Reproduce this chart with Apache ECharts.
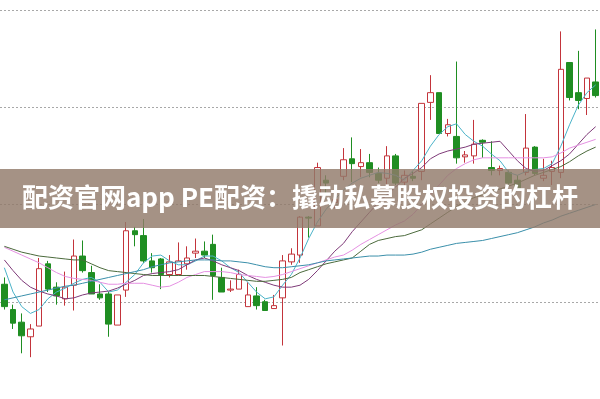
<!DOCTYPE html>
<html>
<head>
<meta charset="utf-8">
<script src="https://cdn.jsdelivr.net/npm/echarts@6/dist/echarts.min.js"></script>
<style>
    html, body {margin: 0; padding: 0; background: #fff;}
    #main {width: 600px; height: 399px;}
</style>
</head>
<body>
<div id="main"></div>
<script>
// 标题
var title = '配资官网app PE配资：撬动私募股权投资的杠杆';

// K线 [open, close, low, high]
var candles = [
    [118, 95, 92, 125], [92, 78, 72, 97], [79, 65, 47, 88], [64, 72, 43, 77],
    [75, 134, 75, 145], [139, 113, 110, 142], [115, 106, 97, 120], [103, 115, 96, 131],
    [117, 147, 91, 164], [147, 132, 130, 163], [130, 108, 108, 137], [108, 104, 102, 118],
    [108, 77, 64, 110], [76, 107, 76, 107], [112, 173, 105, 182], [173, 169, 157, 177],
    [168, 142, 140, 185], [142, 135, 130, 150], [144, 128, 113, 145], [128, 141, 125, 148],
    [128, 142, 128, 161], [139, 145, 133, 157], [150, 152, 145, 165], [152, 148, 145, 162],
    [159, 127, 102, 169], [125, 110, 110, 135], [112, 113, 110, 122], [113, 128, 113, 133],
    [95, 107, 95, 120], [106, 96, 92, 115], [100, 91, 91, 102], [93, 96, 93, 107],
    [104, 142, 55, 148], [141, 149, 138, 155], [148, 187, 140, 188], [187, 186, 166, 188],
    [178, 238, 178, 243], [225, 222, 210, 230], [202, 205, 196, 212], [229, 246, 225, 258],
    [247, 242, 223, 269], [239, 243, 228, 257], [243, 233, 228, 252], [232, 225, 222, 238],
    [227, 250, 220, 260], [250, 222, 220, 252], [223, 230, 220, 235], [229, 227, 224, 234],
    [234, 304, 225, 304], [305, 315, 287, 333], [315, 273, 273, 315], [273, 282, 270, 288],
    [270, 248, 242, 347], [249, 251, 243, 255], [250, 262, 242, 287], [266, 264, 248, 267],
    [238, 235, 230, 265], [235, 237, 230, 240], [233, 222, 220, 235], [225, 217, 214, 230],
    [233, 258, 230, 293], [259, 232, 230, 260], [227, 230, 224, 247], [234, 238, 220, 245],
    [233, 339, 227, 378], [346, 310, 307, 346], [315, 307, 298, 358], [309, 330, 292, 330],
    [326, 312, 310, 380]
];

// 均线
var ma5 = [135,110,95,88,92,103,110,114,119,123,125,120,110,112,120,128,140,147,148,142,
    138,138,142,147,147,142,135,130,120,110,103,105,117,128,145,165,182,195,205,215,
    222,227,230,233,232,230,225,235,245,260,272,280,283,272,265,260,252,245,233,230,
    234,236,237,242,260,282,302,315,323];
var ma10 = [143,132,122,115,111,108,106,103,104,107,109,110,111,114,118,122,127,129,130,131,
    133,138,143,145,142,138,135,132,127,123,120,117,115,115,117,123,132,142,152,160,
    172,182,192,202,210,218,227,232,238,247,252,255,257,259,262,263,264,265,255,245,
    237,234,235,240,245,252,262,272,280];
var ma20 = [156,152,148,144,140,135,130,126,124,123,122,120,118,118,119,119,119,117,115,116,
    120,125,128,131,131,131,130,128,127,126,125,126,128,131,134,137,140,143,146,148,
    153,159,164,169,174,179,183,190,200,210,220,230,237,242,246,248,248,248,248,248,
    248,248,248,249,253,258,261,264,267];
var ma30 = [157,154,151,149,147,146,145,144,143,143,139,135,132,131,130,129,128,127,127,127,
    127,127,127,127,126,125,124,123,122,121,121,122,123,125,130,133,136,139,141,143,
    145,152,159,163,165,167,168,171,174,180,186,192,198,203,207,210,213,216,219,222,
    226,230,233,236,239,244,250,255,259];
var ma60 = [102,104,106,108,110,112,114,116,117,119,121,123,125,127,129,131,133,136,138,140,
    141,142,143,143,143,142,142,141,140,138,136,135,135,136,137,138,140,142,143,144,
    145,146,147,147,148,148,148,149,151,154,156,158,160,161,162,163,165,167,169,171,
    174,177,181,184,188,191,194,197,200];

var days = [];
for (var i = 0; i < candles.length; i++) {
    days.push('D' + (i + 1));
}

var myChart = echarts.init(document.getElementById('main'));

function maLine(name, data, color) {
    return {
        name: name,
        type: 'line',
        data: data,
        symbol: 'none',
        silent: true,
        lineStyle: {width: 1, color: color},
        z: 3
    };
}

var option = {
    animation: false,
    grid: {left: -5, right: -1, top: 10, height: 399},
    xAxis: {
        type: 'category',
        data: days,
        boundaryGap: true,
        axisLine: {show: false},
        axisTick: {show: false},
        axisLabel: {show: false},
        splitLine: {show: false}
    },
    yAxis: {
        type: 'value',
        min: 0,
        max: 400,
        interval: 100,
        axisLine: {show: false},
        axisTick: {show: false},
        axisLabel: {show: false},
        splitLine: {
            show: true,
            lineStyle: {color: '#a8a8a8', type: [2, 2], width: 1}
        }
    },
    series: [
        {
            name: 'K',
            type: 'candlestick',
            data: candles,
            barWidth: 6,
            itemStyle: {
                color: '#ffffff',
                color0: '#1f8e22',
                borderColor: '#c3343b',
                borderColor0: '#1f8e22',
                borderWidth: 1
            },
            z: 2
        },
        maLine('MA5', ma5, '#4ab2c8'),
        maLine('MA10', ma10, '#7e3a78'),
        maLine('MA20', ma20, '#e590e2'),
        maLine('MA30', ma30, '#4b6a3c'),
        maLine('MA60', ma60, '#3a8faa')
    ],
    graphic: [
        {
            type: 'rect',
            left: 0,
            top: 169,
            z: 100,
            shape: {width: 600, height: 59},
            style: {fill: 'rgba(145,122,106,0.82)'}
        },
        {
            type: 'text',
            left: 'center',
            top: 184,
            z: 101,
            style: {
                text: title,
                fill: '#ffffff',
                font: 'bold 26px "Noto Sans CJK SC", "Noto Sans", sans-serif'
            }
        }
    ]
};

myChart.setOption(option);
</script>
</body>
</html>
